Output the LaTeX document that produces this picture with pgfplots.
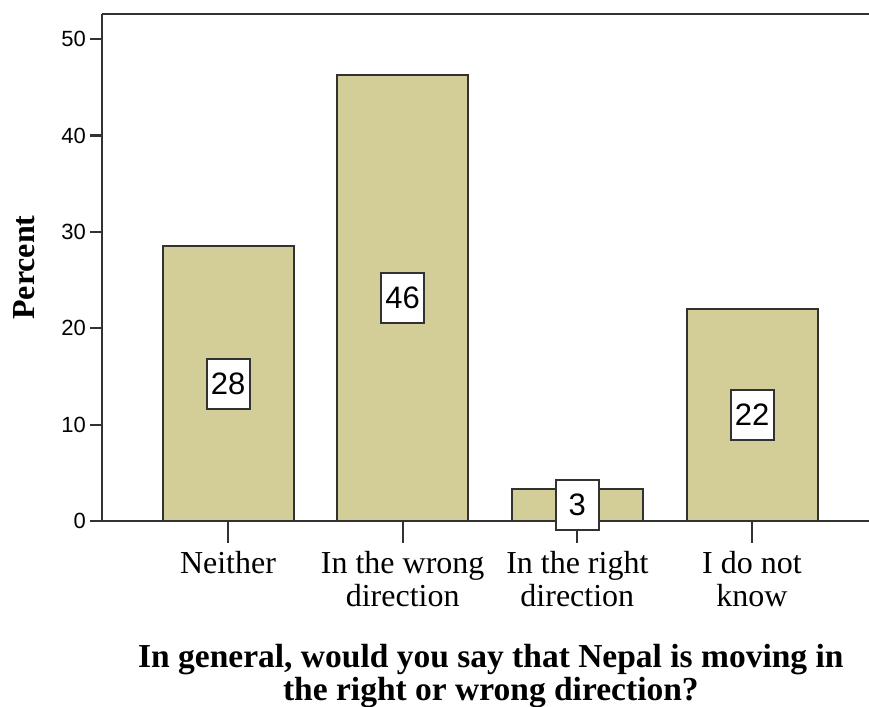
\documentclass[border=0pt]{standalone}
\usepackage{pgfplots}
\pgfplotsset{compat=1.18}
\usepackage{fontspec}
\setmainfont{Liberation Serif}
\newfontfamily\arial{Liberation Sans}
\definecolor{barfill}{RGB}{211,206,151}
\definecolor{linecol}{RGB}{50,50,50}
\begin{document}
\begin{tikzpicture}[x=1pt,y=1pt]
\useasboundingbox (0,0) rectangle (869,706);
\begin{axis}[
  at={(102pt,185pt)}, anchor=south west,
  scale only axis, width=767pt, height=507pt,
  xmin=-0.7214, xmax=3.6698, ymin=0, ymax=52.6,
  clip=false,
  separate axis lines,
  axis x line=box, axis y line=left,
  axis line style={-, draw=linecol, line width=2.2pt},
  tick align=outside,
  major tick length=12pt,
  ytick={0,10,20,30,40,50},
  ytick style={draw=linecol, line width=2.2pt},
  yticklabel style={font=\arial\fontsize{22}{26}\selectfont, inner sep=4pt},
  /pgf/number format/assume math mode=true,
  xtick={0,1,2,3},
  xtick pos=bottom,
  xtick style={draw=none},
  xticklabels={Neither, In the wrong\\direction, In the right\\direction, I do not\\know},
  xticklabel style={align=center, font=\fontsize{32}{33}\selectfont, inner sep=0pt, anchor=north, yshift=-18pt},
  ylabel={Percent},
  every axis y label/.style={at={(axis description cs:-0.1017,0.5)}, rotate=90, anchor=center, font=\bfseries\fontsize{32}{34}\selectfont},
  xlabel={In general, would you say that Nepal is moving in\\the right or wrong direction?},
  every axis x label/.style={at={(axis description cs:0.507,0)}, anchor=north, yshift=-123pt, align=center, inner sep=0pt, font=\bfseries\fontsize{33.5}{33}\selectfont},
]
\addplot[ybar, bar shift=0pt, bar width=131pt, fill=barfill, draw=linecol, line width=2pt]
  coordinates {(0,28.5) (1,46.3) (2,3.3) (3,22.0)};
\addplot[draw=none, mark=none, nodes near coords, point meta=explicit symbolic,
  every node near coord/.append style={anchor=center, draw=linecol, line width=2pt, fill=white,
    font=\arial\fontsize{31}{31}\selectfont, inner sep=0pt, minimum width=43pt, minimum height=50pt}]
  coordinates {(0,14.25)[28] (1,23.15)[46] (2,1.65)[3] (3,11.0)[22]};
\pgfplotsinvokeforeach{0,1,2,3}{
  \draw[linecol, line width=2.2pt] (axis cs:#1,0) -- ++(0pt,-22pt);
}
\end{axis}
\end{tikzpicture}
\end{document}
